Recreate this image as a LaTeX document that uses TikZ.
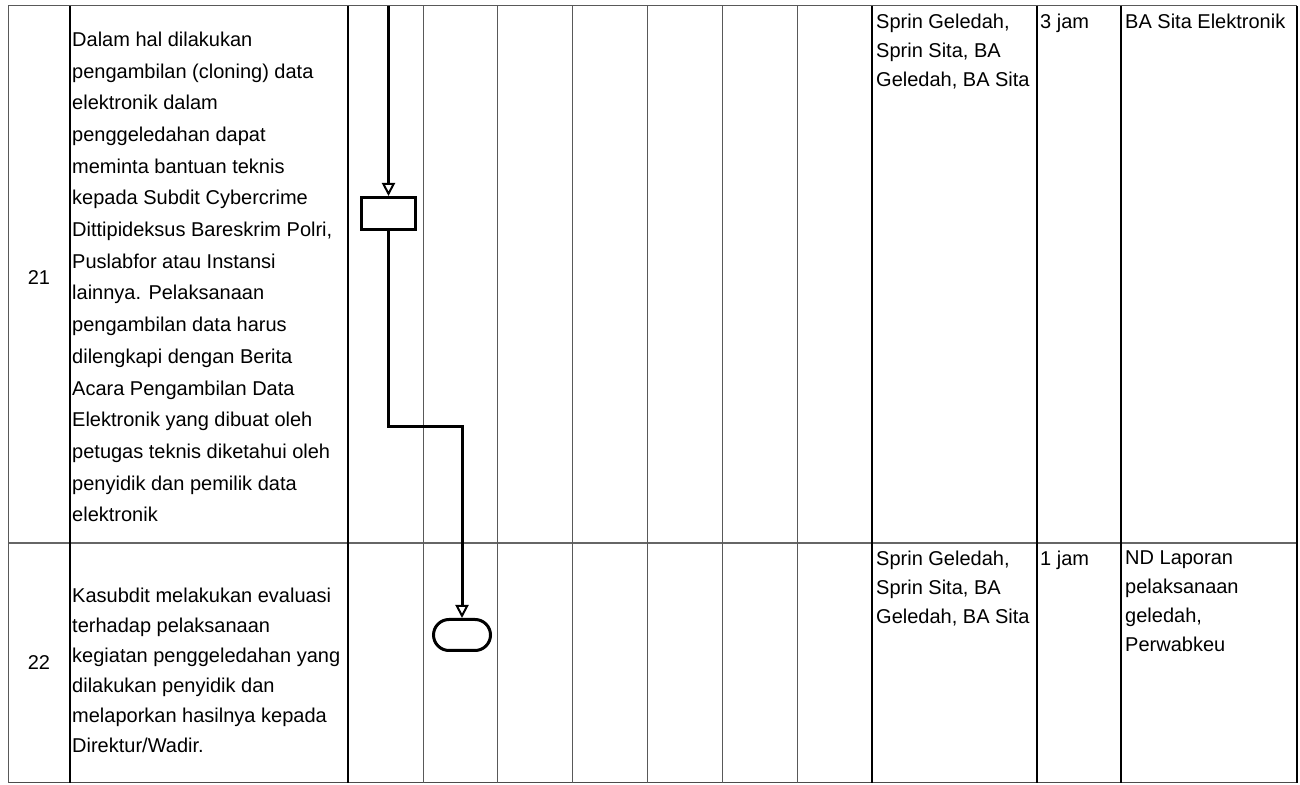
\documentclass[tikz,border=0pt]{standalone}
\usepackage{fontspec}
\setmainfont{Liberation Sans}
\usetikzlibrary{arrows.meta}
\begin{document}
\begin{tikzpicture}[x=1pt,y=1pt,
  thinline/.style={draw=black!65, line width=1pt},
  thickline/.style={draw=black, line width=2.2pt},
  flowline/.style={draw=black, line width=3pt, line join=miter,
    -{Triangle[open,length=13pt,width=13pt,line width=2pt]}},
  procbox/.style={draw=black, line width=3pt, rectangle, minimum width=54pt, minimum height=32pt, inner sep=0pt},
  termbox/.style={draw=black, line width=3pt, rectangle, rounded corners=15.5pt, minimum width=57pt, minimum height=31pt, inner sep=0pt},
  numtxt/.style={font=\fontsize{20}{24}\selectfont, inner sep=0pt},
  desctxt/.style={font=\fontsize{20}{31.7}\selectfont, align=left, inner sep=0pt, anchor=north west},
  desctxtb/.style={font=\fontsize{20}{30}\selectfont, align=left, inner sep=0pt, anchor=north west},
  celltxt/.style={font=\fontsize{20}{29}\selectfont, align=left, inner sep=0pt, anchor=north west}
]
\useasboundingbox (0,0) rectangle (1300,784);
% table grid
\draw[thinline] (8,778) -- (1297,778);
\draw[draw=black!60, line width=1.3pt] (8,241) -- (1297,241);
\draw[draw=black!70, line width=1.2pt] (8,1.5) -- (1297,1.5);
\foreach \x in {8,423,497,572,647,722,797}
  \draw[thinline] (\x,778) -- (\x,1.5);
\foreach \x in {70,348,872,1037,1121,1297}
  \draw[thickline] (\x,778) -- (\x,1.5);
% flow shapes
\coordinate (start) at (388.5,778);
\node[procbox] (proc) at (388.5,570.5) {};
\node[termbox] (term) at (462,149) {};
\coordinate (bend) at (420,357);
\draw[flowline] (start) -- (proc.north);
\draw[flowline] (proc.south) |- (bend) -| (term.north);
% row 21
\node[numtxt] (n21) at (39,506) {21};
\node[desctxt] (d21) at (72,752.3) {Dalam hal dilakukan\\pengambilan (cloning) data\\elektronik dalam\\penggeledahan dapat\\meminta bantuan teknis\\kepada Subdit Cybercrime\\Dittipideksus Bareskrim Polri,\\Puslabfor atau Instansi\\lainnya. Pelaksanaan\\pengambilan data harus\\dilengkapi dengan Berita\\Acara Pengambilan Data\\Elektronik yang dibuat oleh\\petugas teknis diketahui oleh\\penyidik dan pemilik data\\elektronik};
\node[celltxt] (r21a) at (876,770.3) {Sprin Geledah,\\Sprin Sita, BA\\Geledah, BA Sita};
\node[celltxt] (r21b) at (1040,770.3) {3 jam};
\node[celltxt] (r21c) at (1125,770.3) {BA Sita Elektronik};
% row 22
\node[numtxt] (n22) at (39,121) {22};
\node[desctxtb] (d22) at (72,196.3) {Kasubdit melakukan evaluasi\\terhadap pelaksanaan\\kegiatan penggeledahan yang\\dilakukan penyidik dan\\melaporkan hasilnya kepada\\Direktur/Wadir.};
\node[celltxt] (r22a) at (876,233.3) {Sprin Geledah,\\Sprin Sita, BA\\Geledah, BA Sita};
\node[celltxt] (r22b) at (1040,233.3) {1 jam};
\node[celltxt] (r22c) at (1125,233.3) {ND Laporan\\pelaksanaan\\geledah,\\Perwabkeu};
\end{tikzpicture}
\end{document}
